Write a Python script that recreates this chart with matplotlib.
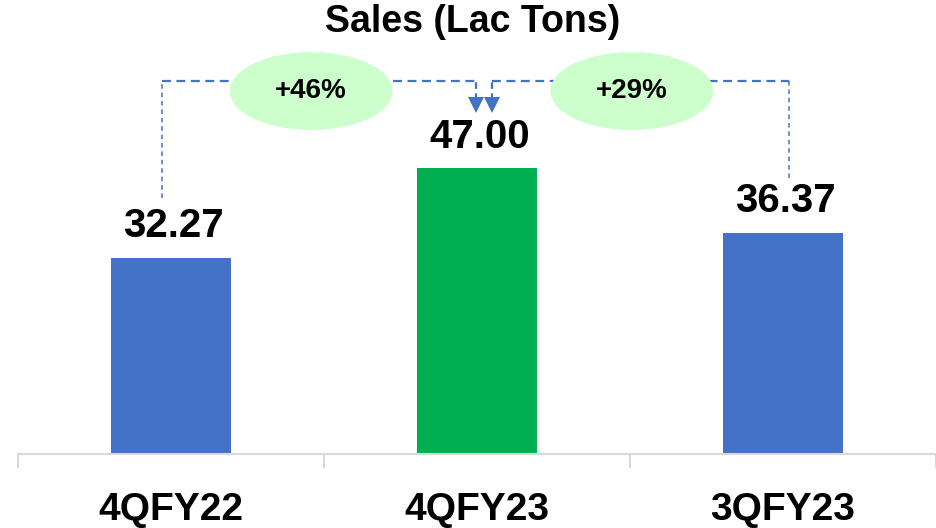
import numpy as np
import matplotlib.pyplot as plt
from matplotlib.patches import Ellipse

# -------------------------------------------
# Data
# -------------------------------------------
quarters = ["4QFY22", "4QFY23", "3QFY23"]
sales = [32.27, 47.00, 36.37]
bar_colors = ["#4472C4", "#00B050", "#4472C4"]

plt.rcParams['font.family'] = ['Liberation Sans', 'DejaVu Sans']
plt.rcParams['font.weight'] = 'bold'

fig = plt.figure(figsize=(9.36, 5.28), dpi=100)
ax = fig.add_axes([18 / 936, 74 / 528, 918 / 936, 454 / 528])

x = np.arange(len(quarters))
ax.bar(x, sales, width=0.39, color=bar_colors, zorder=2)
ax.set_xlim(-0.5, 2.5 - 12 / 310)
ax.set_ylim(0, 454 / 6.08)

# value labels
for xi, v in zip(x, sales):
    ax.annotate(f"{v:.2f}", (xi, v), xytext=(2, 9), textcoords="offset points",
                ha="center", va="bottom", fontsize=29, fontweight="bold")

# axis styling
for s in ["top", "right", "left"]:
    ax.spines[s].set_visible(False)
ax.spines["bottom"].set_color("#D9D9D9")
ax.spines["bottom"].set_linewidth(1.5)
ax.set_yticks([])
ax.set_xticks(x)
ax.set_xticklabels(quarters, fontsize=28, fontweight="bold")
ax.tick_params(axis="x", which="major", length=0, pad=27)
ax.set_xticks(np.arange(-0.5, 3.0, 1.0), minor=True)
ax.tick_params(axis="x", which="minor", length=10, width=1.5, color="#D9D9D9")

# -------------------------------------------
# Growth connectors
# -------------------------------------------
line_c = "#4472C4"
top_y = 61.3
dash = dict(color=line_c, linestyle=(0, (4, 2.5)), linewidth=1.6, zorder=1)
vdash = dict(color=line_c, linestyle=(0, (3, 2.5)), linewidth=1.1, zorder=1)

left_x = x[0] - 0.03
right_x = x[2] + 0.02
ax.plot([left_x, left_x], [sales[0] + 9.9, top_y], **vdash)
ax.plot([right_x, right_x], [sales[2] + 9.0, top_y], **vdash)
ax.plot([left_x, x[1] - 0.003], [top_y, top_y], **dash)
ax.plot([x[1] + 0.05, right_x], [top_y, top_y], **dash)

# arrows into the middle bar
for ax_x in [x[1] - 0.003, x[1] + 0.05]:
    ax.plot([ax_x, ax_x], [58.3, top_y], color=line_c, linestyle=(0, (3, 2)),
            linewidth=1.6, zorder=1)
    ax.plot(ax_x, 57.4, marker="v", markersize=11, color=line_c,
            markeredgewidth=0, zorder=2)

growth = [(sales[1] / sales[0] - 1) * 100, (sales[1] / sales[2] - 1) * 100]
ell_x = [0.458, 1.506]
for ex, g in zip(ell_x, growth):
    ax.add_patch(Ellipse((ex, 59.7), 0.532, 12.8, facecolor="#CCFFCC",
                         edgecolor="none", zorder=3))
    ax.text(ex, 59.7, f"+{g:.0f}%", ha="center", va="center",
            fontsize=20, fontweight="bold", zorder=4)

fig.text(473 / 936, 1 - 22 / 528, "Sales (Lac Tons)", ha="center", va="center",
         fontsize=27, fontweight="bold")

fig.savefig("out.png", dpi=100)
